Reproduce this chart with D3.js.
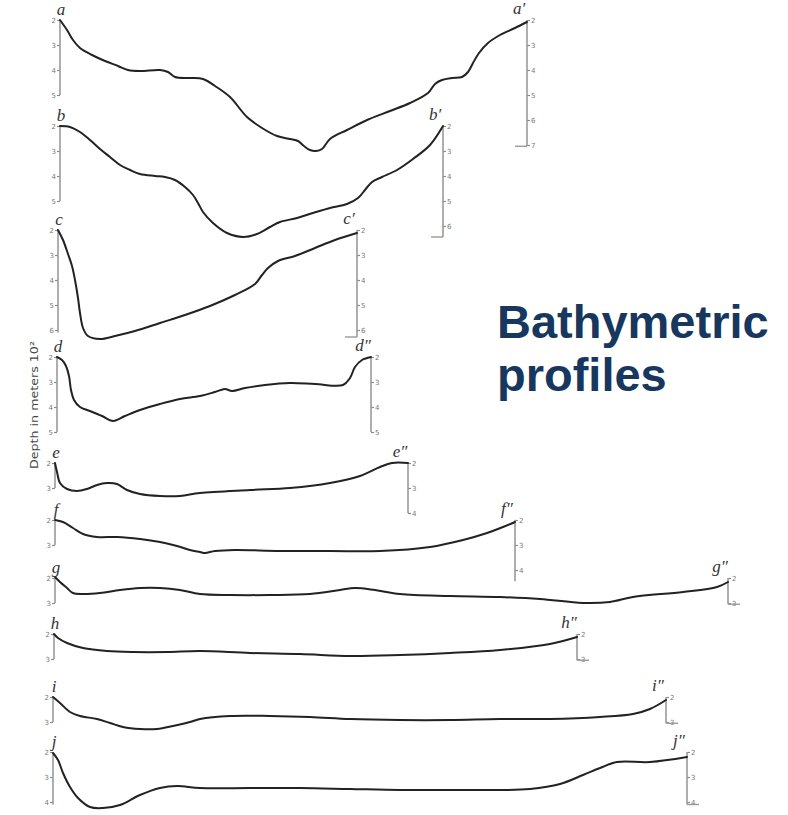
<!DOCTYPE html>
<html>
<head>
<meta charset="utf-8">
<script src="https://cdn.jsdelivr.net/npm/d3@7"></script>
<style>
  body { margin: 0; background: #fff; }
  svg { display: block; }
</style>
</head>
<body>
<svg id="chart" width="788" height="815"></svg>
<script>
// profile data: distance along section (x 10 km units) and depth (x 100 m)
const distA = [0,0.7,1.3,2,3.2,4.5,5.8,6.8,8,10,10.8,11.5,13,14.3,15.5,17,18.7,20.2,21.7,23,23.8,24.4,25,25.6,26.2,27,28.7,30.7,33,35,36.8,37.5,38.2,39.2,40.2,40.8,41.3,41.9,42.8,44,45.5,46.7];
const depthA = [2,2.4,2.8,3.12,3.4,3.64,3.84,4.0,4.04,4.0,4.08,4.28,4.32,4.36,4.64,5.08,5.88,6.32,6.64,6.76,6.84,7.04,7.2,7.24,7.16,6.76,6.4,6.0,5.64,5.32,4.92,4.56,4.4,4.32,4.28,4.08,3.72,3.32,2.92,2.6,2.32,2.08];

const distB = [0,1,2,3,4,5,6,7,8,9.5,10.5,11.5,12.5,13.3,13.8,14.3,15.3,16.7,18.3,19.7,21,22,23.7,25.3,27,28.7,29.8,30.5,31.2,32.2,33.7,35.3,37,38.3];
const depthB = [2.0,2.04,2.24,2.56,2.92,3.24,3.56,3.76,3.92,4.0,4.04,4.16,4.44,4.76,5.08,5.44,5.88,6.28,6.44,6.32,6.04,5.84,5.68,5.48,5.28,5.12,4.88,4.56,4.24,4.04,3.76,3.32,2.76,2.0];

const distC = [0,0.5,1,1.4,1.7,2,2.2,2.5,3,4.2,5.7,7.7,10.2,12.7,15.2,17.7,19.7,20.4,21,22,23.7,25.7,27.7,29.9];
const depthC = [2.0,2.4,2.96,3.44,4.0,4.72,5.32,5.92,6.24,6.36,6.24,6.04,5.72,5.4,5.04,4.6,4.16,3.8,3.52,3.24,3.04,2.72,2.4,2.12];

const distD = [0,0.5,0.9,1.2,1.4,1.7,2.3,3.3,4.5,5.6,6.8,8.3,10.3,12.3,14.3,15.8,16.8,17.5,18.8,20.8,23.3,25.8,28.6,29.3,29.8,30.5,31.4];
const depthD = [2.0,2.12,2.36,2.76,3.32,3.72,4.0,4.16,4.36,4.56,4.36,4.12,3.88,3.68,3.56,3.4,3.28,3.36,3.24,3.12,3.04,3.08,3.12,2.84,2.4,2.12,2.0];

const distE = [0,0.2,0.5,1.2,2.2,3.2,4.2,5.2,6.2,7.2,8.5,10.5,12.5,14.5,19.5,23.5,27.5,30.5,32.5,33.7,35.3];
const depthE = [2.0,2.36,2.8,3.04,3.12,3.04,2.88,2.8,2.84,3.08,3.24,3.32,3.32,3.2,3.08,3.0,2.8,2.52,2.16,2.0,2.0];

const distF = [0,0.8,1.8,2.8,4.2,6.2,8.5,10.5,12.2,13.5,14.5,15,16,18,22.5,27.5,32.5,37.5,40.8,43.2,44.8,46];
const depthF = [2.0,2.08,2.32,2.56,2.68,2.68,2.76,2.88,3.04,3.2,3.28,3.32,3.24,3.2,3.24,3.24,3.24,3.08,2.8,2.52,2.28,2.08];

const distG = [0,0.5,1.2,1.8,2.8,4.5,6.5,8.5,10.5,12.5,14.5,17.5,21.5,25.5,28.5,30,32,34.5,39.5,44.5,48.5,52.8,55.5,57.8,62.8,66.2,67.3];
const depthG = [1.96,2.16,2.4,2.6,2.64,2.6,2.48,2.4,2.4,2.48,2.64,2.68,2.68,2.64,2.48,2.4,2.48,2.64,2.72,2.76,2.84,3.0,2.96,2.76,2.56,2.36,2.16];

const distH = [0,0.4,1.3,2.9,5.3,7.9,11.3,14.6,19.6,24.6,29.6,34.6,39.6,44.6,49.6,52.3];
const depthH = [2.0,2.16,2.36,2.56,2.68,2.72,2.72,2.68,2.76,2.8,2.88,2.84,2.76,2.64,2.4,2.12];

const distI = [0,0.7,1.7,2.7,4.4,5.7,7,8.7,10.4,12,13.7,14.7,17.7,21.7,25.7,29.7,34.7,39.7,44.7,49.7,54.7,58,59.7,61.3];
const depthI = [2.0,2.24,2.6,2.76,2.88,3.04,3.2,3.28,3.28,3.16,3.0,2.88,2.76,2.76,2.8,2.88,2.92,2.92,2.88,2.88,2.8,2.68,2.48,2.12];

const distJ = [0,0.5,1,1.7,2.5,3.7,5,6.7,8.7,10.7,12.4,14.7,19.7,24.7,29.7,34.7,39.7,44.7,47.7,50.7,53,54.7,56.4,59.7,63.4];
const depthJ = [2.04,2.32,2.84,3.4,3.84,4.2,4.24,4.12,3.72,3.44,3.36,3.44,3.44,3.44,3.48,3.52,3.52,3.52,3.48,3.28,2.92,2.64,2.4,2.4,2.2];

const startLabels = ["a","b","c","d","e","f","g","h","i","j"];
const endLabels = ["a\u2032","b\u2032","c\u2032","d\u2033","e\u2033","f\u2033","g\u2033","h\u2033","i\u2033","j\u2033"];
const leftTicks = [[2,3,4,5],[2,3,4,5],[2,3,4,5,6],[2,3,4,5],[2,3],[2,3],[2,3],[2,3],[2,3],[2,3,4]];
const rightTicks = [[2,3,4,5,6,7],[2,3,4,5,6],[2,3,4,5,6],[2,3,4,5],[2,3,4],[2,3,4],[2,3],[2,3],[2,3],[2,3,4]];

const dists = [distA, distB, distC, distD, distE, distF, distG, distH, distI, distJ];
const depths = [depthA, depthB, depthC, depthD, depthE, depthF, depthG, depthH, depthI, depthJ];

// page layout for each profile panel
const panels = [
  { x0: 60, top: 20,  leftEnd: 5,   rightEnd: 7.05, foot: -1 },
  { x0: 60, top: 126, leftEnd: 5,   rightEnd: 6.44, foot: -1 },
  { x0: 58, top: 230, leftEnd: 6.1, rightEnd: 6.28, foot: -1 },
  { x0: 57, top: 357, leftEnd: 5,   rightEnd: 5,    foot: 0 },
  { x0: 55, top: 463, leftEnd: 3,   rightEnd: 4,    foot: 0 },
  { x0: 55, top: 520, leftEnd: 3,   rightEnd: 4.45, foot: 0 },
  { x0: 55, top: 578, leftEnd: 3,   rightEnd: 3.05, foot: 1 },
  { x0: 54, top: 634, leftEnd: 3,   rightEnd: 3.05, foot: 1 },
  { x0: 53, top: 697, leftEnd: 3,   rightEnd: 3.05, foot: 1 },
  { x0: 53, top: 752, leftEnd: 4.1, rightEnd: 4.1,  foot: 1 }
];

const svg = d3.select("#chart");
svg.append("rect").attr("width", 788).attr("height", 815).attr("fill", "#fff");

const x = d3.scaleLinear().domain([0, 10]).range([0, 100]);
const unitPx = 25;

const line = d3.line().curve(d3.curveCatmullRom.alpha(0.5));

panels.forEach((p, i) => {
  const y = d3.scaleLinear().domain([2, 3]).range([p.top, p.top + unitPx]);
  const dist = dists[i], depth = depths[i];
  const xEnd = p.x0 + x(dist[dist.length - 1]);
  const g = svg.append("g");

  // left depth scale
  const left = g.append("g")
    .attr("transform", `translate(${p.x0},0)`)
    .call(d3.axisLeft(y).tickValues(leftTicks[i]).tickSize(3).tickSizeOuter(0).tickFormat(d3.format("d")));
  left.select(".domain").remove();
  left.append("line").attr("x1", 0).attr("x2", 0).attr("y1", y(2)).attr("y2", y(p.leftEnd))
    .attr("stroke", "#9a9a9a").attr("stroke-width", 1.6);

  // right depth scale
  const right = g.append("g")
    .attr("transform", `translate(${xEnd},0)`)
    .call(d3.axisRight(y).tickValues(rightTicks[i]).tickSize(3).tickSizeOuter(0).tickFormat(d3.format("d")));
  right.select(".domain").remove();
  right.append("line").attr("x1", 0).attr("x2", 0).attr("y1", y(2)).attr("y2", y(p.rightEnd))
    .attr("stroke", "#9a9a9a").attr("stroke-width", 1.6);
  if (p.foot !== 0) {
    right.append("line").attr("x1", 0).attr("x2", p.foot * 12)
      .attr("y1", y(p.rightEnd)).attr("y2", y(p.rightEnd))
      .attr("stroke", "#9a9a9a").attr("stroke-width", 1.4);
  }

  [left, right].forEach(ax => {
    ax.selectAll(".tick line").attr("stroke", "#8a8a8a").attr("stroke-width", 1.2);
    ax.selectAll(".tick text").attr("fill", "#777")
      .style("font-family", "DejaVu Sans, sans-serif").style("font-size", "7px");
  });
  left.selectAll(".tick text").attr("x", -4);
  right.selectAll(".tick text").attr("x", 4);

  // profile
  const pts = dist.map((d, k) => [p.x0 + x(d), y(depth[k])]);
  g.append("path").attr("d", line(pts))
    .attr("fill", "none").attr("stroke", "#222").attr("stroke-width", 2)
    .attr("stroke-linejoin", "round").attr("stroke-linecap", "round");

  // section letters
  g.append("text").attr("x", p.x0 + 1).attr("y", p.top - 5)
    .attr("text-anchor", "middle")
    .style("font-family", "Liberation Serif, serif").style("font-style", "italic")
    .style("font-size", "17px").attr("fill", "#333").text(startLabels[i]);
  g.append("text").attr("x", xEnd - 8).attr("y", p.top - 6)
    .attr("text-anchor", "middle")
    .style("font-family", "Liberation Serif, serif").style("font-style", "italic")
    .style("font-size", "17px").attr("fill", "#333").text(endLabels[i]);
});

// vertical axis title
svg.append("text")
  .attr("transform", "translate(38,405) rotate(-90)")
  .attr("text-anchor", "middle")
  .attr("textLength", 128).attr("lengthAdjust", "spacingAndGlyphs")
  .style("font-family", "DejaVu Sans, sans-serif").style("font-size", "11px")
  .attr("fill", "#444")
  .text("Depth in meters 10\u00b2");

// title
const title = svg.append("text")
  .style("font-family", "Liberation Sans, Arial, sans-serif")
  .style("font-weight", "bold").style("font-size", "47px")
  .attr("fill", "#17375e");
title.append("tspan").attr("x", 497).attr("y", 338).text("Bathymetric");
title.append("tspan").attr("x", 497).attr("y", 391).text("profiles");
</script>
</body>
</html>
